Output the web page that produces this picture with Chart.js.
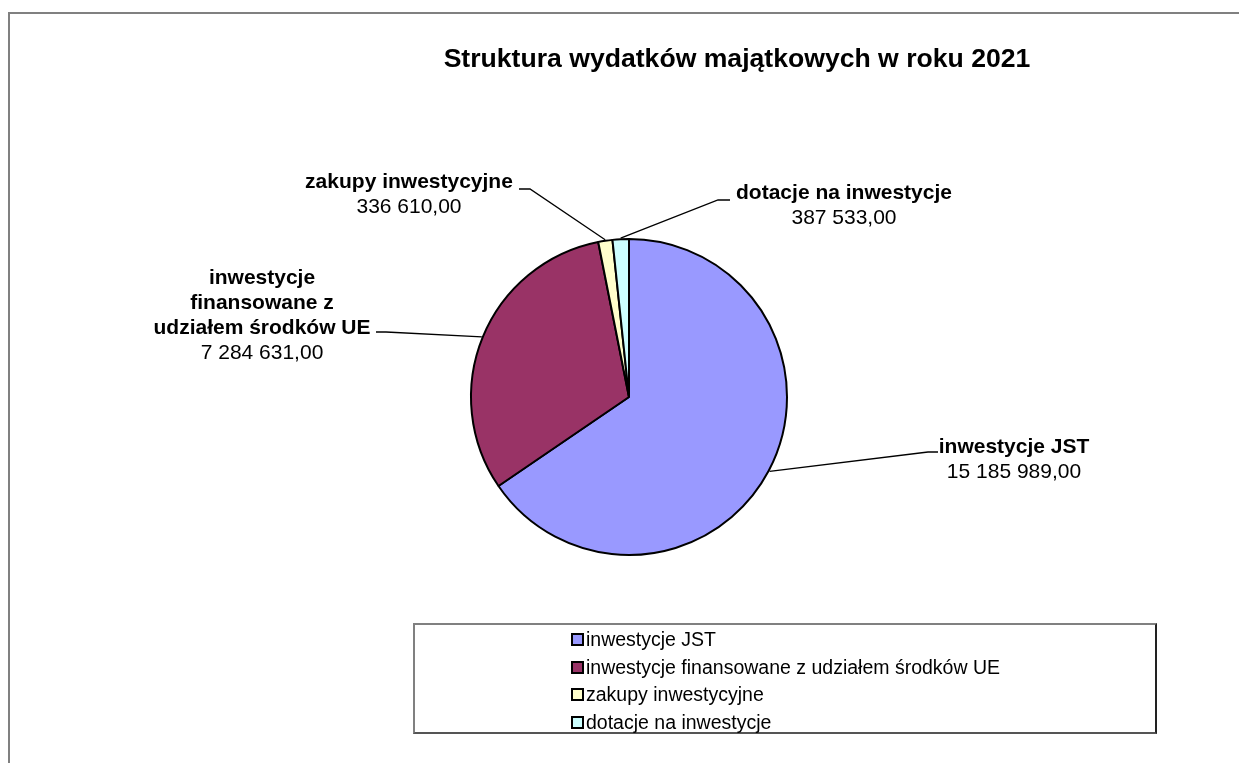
<!DOCTYPE html>
<html>
<head>
<meta charset="utf-8">
<script src="https://cdn.jsdelivr.net/npm/chart.js@4"></script>
<style>
  html, body { margin: 0; padding: 0; background: #fff; overflow: hidden; }
  body { width: 1239px; height: 763px; position: relative; font-family: 'Liberation Sans', Arial, sans-serif; }
  #frame { position: absolute; left: 8px; top: 12px; width: 1300px; height: 800px; border-left: 2px solid #808080; border-top: 2px solid #808080; }
  #chart { position: absolute; left: 0; top: 0; }
  #title { position: absolute; left: 437px; width: 600px; top: 43px; text-align: center; font-weight: bold; font-size: 26.6px; line-height: 30px; color: #000; white-space: nowrap; }
  #legend { position: absolute; left: 413px; top: 623px; width: 740px; height: 107px; border: 2px solid #808080; border-right-color: #222; border-bottom-color: #555; }
  #legend ul { list-style: none; margin: 0; padding: 0; position: absolute; left: 156px; top: 1px; }
  #legend li { height: 27.5px; line-height: 27.5px; font-size: 19.5px; color: #000; white-space: nowrap; }
  #legend .box { display: inline-block; width: 9px; height: 9px; border: 2px solid #000; margin-right: 2px; vertical-align: 0px; }
</style>
</head>
<body>
<div id="frame"></div>
<canvas id="chart" width="1239" height="763"></canvas>
<div id="title">Struktura wydatków majątkowych w roku 2021</div>
<div id="legend"><ul id="legendList"></ul></div>

<script>
// ── Data ──────────────────────────────────────────────────────────────────────

const categories = [
  'inwestycje JST',
  'inwestycje finansowane z udziałem środków UE',
  'zakupy inwestycyjne',
  'dotacje na inwestycje'
]
const amounts = [15185989.00, 7284631.00, 336610.00, 387533.00]
const colors = ['#9999FF', '#993366', '#FFFFCC', '#CCFFFF']

// how the data labels are wrapped (same order as categories)
const labelLines = [
  ['inwestycje JST'],
  ['inwestycje', 'finansowane z', 'udziałem środków UE'],
  ['zakupy inwestycyjne'],
  ['dotacje na inwestycje']
]

// label placement: elbow of leader line, end of the short horizontal, text centre x, first baseline
const labelLayout = [
  { elbow: [928, 452], end: [938, 452], cx: 1014, y: 453 },
  { elbow: [386, 332], end: [376, 332], cx: 262, y: 284 },
  { elbow: [530, 189], end: [519, 189], cx: 409, y: 188 },
  { elbow: [718, 200], end: [730, 200], cx: 844, y: 199 }
]

// ── Helpers ───────────────────────────────────────────────────────────────────

function fmtPl(n) {
  const [int, dec] = n.toFixed(2).split('.')
  return int.replace(/\B(?=(\d{3})+(?!\d))/g, ' ') + ',' + dec
}

const FONT = "'Liberation Sans', Arial, sans-serif"

// leader lines + data labels
const pieLabels = {
  id: 'pieLabels',
  afterDatasetsDraw(chart) {
    const ctx = chart.ctx
    const arcs = chart.getDatasetMeta(0).data
    ctx.save()
    arcs.forEach((arc, i) => {
      const lay = labelLayout[i]
      const { x, y, startAngle, endAngle, outerRadius } = arc.getProps(['x', 'y', 'startAngle', 'endAngle', 'outerRadius'], true)
      const mid = (startAngle + endAngle) / 2
      const px = x + Math.cos(mid) * (outerRadius + 1)
      const py = y + Math.sin(mid) * (outerRadius + 1)

      ctx.strokeStyle = '#000'
      ctx.lineWidth = 1.3
      ctx.beginPath()
      ctx.moveTo(px, py)
      ctx.lineTo(lay.elbow[0], lay.elbow[1])
      ctx.lineTo(lay.end[0], lay.end[1])
      ctx.stroke()

      ctx.fillStyle = '#000'
      ctx.textAlign = 'center'
      ctx.textBaseline = 'alphabetic'
      let ty = lay.y
      ctx.font = 'bold 21px ' + FONT
      for (const line of labelLines[i]) {
        ctx.fillText(line, lay.cx, ty)
        ty += 25
      }
      ctx.font = '21px ' + FONT
      ctx.fillText(fmtPl(amounts[i]), lay.cx, ty)
    })
    ctx.restore()
  }
}

// ── Chart ─────────────────────────────────────────────────────────────────────

new Chart(document.getElementById('chart'), {
  type: 'pie',
  data: {
    labels: categories,
    datasets: [{
      data: amounts,
      backgroundColor: colors,
      borderColor: '#000',
      borderWidth: 2,
      hoverOffset: 0
    }]
  },
  options: {
    responsive: false,
    animation: false,
    layout: { padding: { top: 238, bottom: 207, left: 470, right: 451 } },
    plugins: {
      legend: { display: false },
      title: { display: false },
      tooltip: { enabled: false }
    }
  },
  plugins: [pieLabels]
})

// legend (HTML)
document.getElementById('legendList').innerHTML = categories.map((c, i) =>
  `<li><span class="box" style="background:${colors[i]}"></span>${c}</li>`
).join('')
</script>
</body>
</html>
